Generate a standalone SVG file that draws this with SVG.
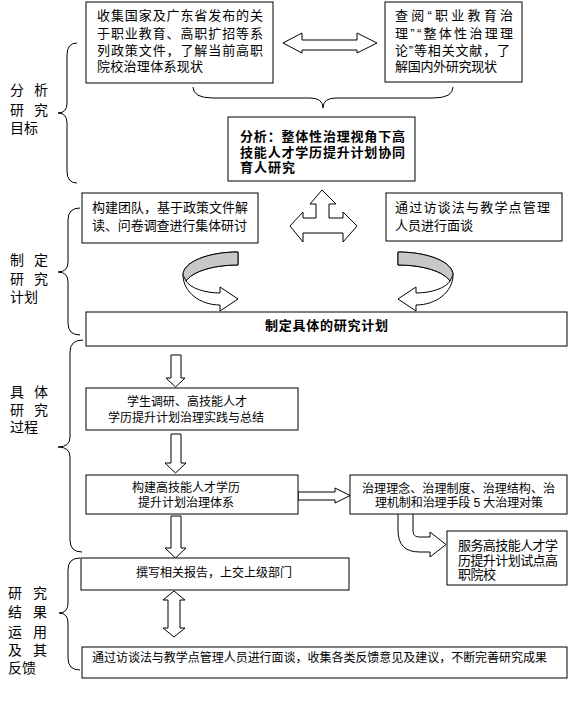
<svg xmlns="http://www.w3.org/2000/svg" width="585" height="707" viewBox="0 0 585 707">
<style>
.box{fill:#fff;stroke:#000;stroke-width:1}
.t{font-family:"Liberation Sans","Noto Sans CJK SC",sans-serif;font-size:13px;fill:#000}
.s{font-size:12px}
.b{font-weight:bold}
.lab{font-family:"Liberation Sans","Noto Sans CJK SC",sans-serif;font-size:14px;fill:#000}
.brace{fill:none;stroke:#000;stroke-width:1}
.arr{fill:#fff;stroke:#000;stroke-width:1;stroke-linejoin:miter}
.gray{fill:#c8c8c8;stroke:#000;stroke-width:1}
</style>
<rect width="585" height="707" fill="#fff"/>

<g id="braces">
<path class="brace" d="M193,87 Q193,98 213,98 L310,98 Q323,98 323,108 Q323,98 336,98 L433,98 Q453,98 453,87"/>
<path class="brace" d="M77,43 Q67,43 67,55 L67,103 Q67,113 58,113 Q67,113 67,123 L67,171 Q67,183 77,183"/>
<path class="brace" d="M80,208 Q68,208 68,220 L68,262 Q68,272 58,272 Q68,272 68,282 L68,323 Q68,335 80,335"/>
<path class="brace" d="M83,340 Q70,340 70,352 L70,437 Q70,447 58,447 Q70,447 70,457 L70,540 Q70,552 82,552"/>
<path class="brace" d="M80,558 Q68,558 68,570 L68,603 Q68,613 59,613 Q68,613 68,623 L68,658 Q68,670 80,670"/>
</g>

<g id="labels">
<text class="lab" x="10" y="95">分</text><text class="lab" x="34" y="95">析</text>
<text class="lab" x="10" y="115">研</text><text class="lab" x="34" y="115">究</text>
<text class="lab" x="10" y="133">目标</text>
<text class="lab" x="10" y="265">制</text><text class="lab" x="34" y="265">定</text>
<text class="lab" x="10" y="284">研</text><text class="lab" x="34" y="284">究</text>
<text class="lab" x="10" y="302">计划</text>
<text class="lab" x="10" y="397">具</text><text class="lab" x="34" y="397">体</text>
<text class="lab" x="10" y="415">研</text><text class="lab" x="34" y="415">究</text>
<text class="lab" x="10" y="432">过程</text>
<text class="lab" x="8" y="598">研</text><text class="lab" x="33" y="598">究</text>
<text class="lab" x="8" y="617">结</text><text class="lab" x="33" y="617">果</text>
<text class="lab" x="8" y="637">运</text><text class="lab" x="33" y="637">用</text>
<text class="lab" x="8" y="655">及</text><text class="lab" x="33" y="655">其</text>
<text class="lab" x="8" y="673">反馈</text>
</g>

<g id="connectors">
<polygon class="arr" points="283,43 302,33 302,40 357,40 357,33 377,43 357,53 357,50 302,50 302,53"/>
<polygon class="arr" points="322,190 336,204 329,204 329,218 343,218 343,212 357,226 343,242 343,233 303,233 303,242 290,226 303,212 303,218 316,218 316,204 310,204"/>
<g id="curve-left">
<path class="arr" d="M238,252 C208,252 183,262 183,275 C183,292 200,305 220,305 L220,311 L238,299 L220,287 L220,293 C205,293 190,288 186,281 C192,272 212,265 238,265 Z"/>
<path class="gray" d="M238,252 C208,252 183,262 183,275 L186,281 C192,272 212,265 238,265 Z"/>
</g>
<g id="curve-right" transform="matrix(-1,0,0,1,636,0)">
<path class="arr" d="M238,252 C208,252 183,262 183,275 C183,292 200,305 220,305 L220,311 L238,299 L220,287 L220,293 C205,293 190,288 186,281 C192,272 212,265 238,265 Z"/>
<path class="gray" d="M238,252 C208,252 183,262 183,275 L186,281 C192,272 212,265 238,265 Z"/>
</g>
<polygon class="arr" points="171,355 181,355 181,378 185,378 175.5,387 166,378 171,378"/>
<polygon class="arr" points="171,434 181,434 181,463 186,463 175.5,473 165,463 171,463"/>
<polygon class="arr" points="171,516 181,516 181,548 186,548 175.5,558 165,548 171,548"/>
<polygon class="arr" points="298,492 335,492 335,488 350,495.5 335,503 335,500 298,500"/>
<path class="arr" d="M398,514 L398,530 C398,545 405,552 420,552 L430,552 L430,557 L446,544.5 L430,532 L430,537 L420,537 C415,537 413,535 413,530 L413,514"/>
<polygon class="arr" points="174,591 185,600 180,600 180,628 185,628 174,637 163,628 168,628 168,600 163,600"/>
</g>

<g id="n1"><rect class="box" x="86" y="2" width="187" height="81"/>
<text class="t" x="97" y="20" textLength="166" lengthAdjust="spacing">收集国家及广东省发布的关</text>
<text class="t" x="97" y="38" textLength="166" lengthAdjust="spacing">于职业教育、高职扩招等系</text>
<text class="t" x="97" y="55" textLength="166" lengthAdjust="spacing">列政策文件，了解当前高职</text>
<text class="t" x="97" y="71" textLength="106" lengthAdjust="spacing">院校治理体系现状</text></g>

<g id="n2"><rect class="box" x="385" y="2" width="137" height="80"/>
<text class="t" x="395" y="20" textLength="118" lengthAdjust="spacing">查阅“职业教育治</text>
<text class="t" x="395" y="38" textLength="118" lengthAdjust="spacing">理”“整体性治理理</text>
<text class="t" x="395" y="55" textLength="115" lengthAdjust="spacing">论”等相关文献，了</text>
<text class="t" x="395" y="71" textLength="102" lengthAdjust="spacing">解国内外研究现状</text></g>

<g id="n3"><rect class="box" x="228" y="117" width="187" height="64"/>
<text class="t b" x="240" y="141" textLength="165" lengthAdjust="spacing">分析：整体性治理视角下高</text>
<text class="t b" x="240" y="157" textLength="165" lengthAdjust="spacing">技能人才学历提升计划协同</text>
<text class="t b" x="240" y="172" textLength="55" lengthAdjust="spacing">育人研究</text></g>

<g id="n4"><rect class="box" x="82" y="193" width="176" height="50"/>
<text class="t" x="92" y="212" textLength="156" lengthAdjust="spacing">构建团队，基于政策文件解</text>
<text class="t" x="92" y="230" textLength="155" lengthAdjust="spacing">读、问卷调查进行集体研讨</text></g>

<g id="n5"><rect class="box" x="386" y="193" width="176" height="48"/>
<text class="t" x="395" y="212" textLength="155" lengthAdjust="spacing">通过访谈法与教学点管理</text>
<text class="t" x="395" y="230" textLength="78" lengthAdjust="spacing">人员进行面谈</text></g>

<g id="n6"><rect class="box" x="86" y="312" width="481" height="34"/>
<text class="t b" x="265" y="330" textLength="123" lengthAdjust="spacing">制定具体的研究计划</text></g>

<g id="n7"><rect class="box" x="86" y="388" width="212" height="42"/>
<text class="t s" x="187" y="406" text-anchor="middle">学生调研、高技能人才</text>
<text class="t s" x="186" y="422" text-anchor="middle">学历提升计划治理实践与总结</text></g>

<g id="n8"><rect class="box" x="86" y="475" width="212" height="39"/>
<text class="t s" x="186" y="492" text-anchor="middle">构建高技能人才学历</text>
<text class="t s" x="186" y="507" text-anchor="middle">提升计划治理体系</text></g>

<g id="n9"><rect class="box" x="350" y="475" width="217" height="39"/>
<text class="t s" x="362" y="493" textLength="193" lengthAdjust="spacing">治理理念、治理制度、治理结构、治</text>
<text class="t s" x="375" y="507" textLength="168" lengthAdjust="spacing">理机制和治理手段 5 大治理对策</text></g>

<g id="n10"><rect class="box" x="447" y="531" width="120" height="54"/>
<text class="t" x="458" y="550" textLength="100" lengthAdjust="spacing">服务高技能人才学</text>
<text class="t" x="458" y="565" textLength="100" lengthAdjust="spacing">历提升计划试点高</text>
<text class="t" x="458" y="579" textLength="38" lengthAdjust="spacing">职院校</text></g>

<g id="n11"><rect class="box" x="81" y="558" width="268" height="32"/>
<text class="t s" x="214" y="577" text-anchor="middle">撰写相关报告，上交上级部门</text></g>

<g id="n12"><rect class="box" x="82" y="647" width="485" height="31"/>
<text class="t s" x="92" y="662" textLength="455" lengthAdjust="spacing">通过访谈法与教学点管理人员进行面谈，收集各类反馈意见及建议，不断完善研究成果</text></g>
</svg>
